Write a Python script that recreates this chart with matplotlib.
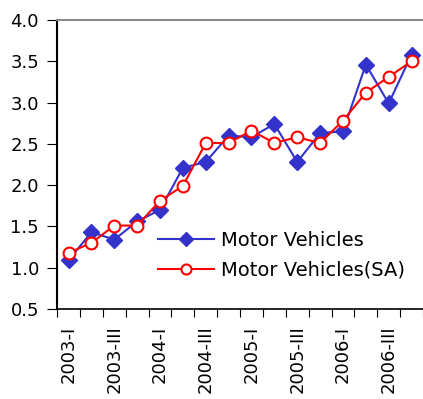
import matplotlib
matplotlib.use("Agg")
import matplotlib.pyplot as plt
import numpy as np

quarters = ['2003-I', '2003-II', '2003-III', '2003-IV',
            '2004-I', '2004-II', '2004-III', '2004-IV',
            '2005-I', '2005-II', '2005-III', '2005-IV',
            '2006-I', '2006-II', '2006-III', '2006-IV']
motor = [1.09, 1.43, 1.34, 1.56, 1.70, 2.21, 2.28, 2.60,
         2.58, 2.74, 2.28, 2.63, 2.65, 3.46, 2.99, 3.58]
motor_sa = [1.18, 1.30, 1.51, 1.51, 1.81, 1.99, 2.51, 2.51,
            2.66, 2.51, 2.58, 2.51, 2.78, 3.12, 3.31, 3.50]

def plot_chart():
    fig = plt.figure(figsize=(4.23, 3.99), dpi=100)
    ax = fig.add_axes([0.135, 0.2256, 0.865, 0.7244])
    x = np.arange(len(quarters))
    ax.plot(x, motor, color='#3333CC', marker='D', markersize=8.5, lw=1.5,
            label='Motor Vehicles')
    ax.plot(x, motor_sa, color='#FF0000', marker='o', markersize=8.5, lw=1.5,
            markerfacecolor='white', markeredgewidth=1.5, label='Motor Vehicles(SA)')

    ax.set_xlim(-0.5, len(quarters) - 0.5)
    ax.set_ylim(0.5, 4.0)
    ax.set_yticks(np.arange(0.5, 4.01, 0.5))
    ax.set_yticklabels(['%.1f' % v for v in np.arange(0.5, 4.01, 0.5)], fontsize=13)
    ax.set_xticks(np.arange(-0.5, len(quarters), 1.0))
    ax.set_xticklabels([])
    ax.set_xticks(x[::2], minor=True)
    ax.set_xticklabels(quarters[::2], minor=True, rotation=90, fontsize=13)
    ax.tick_params(axis='x', which='major', length=6, direction='out', color='black')
    ax.tick_params(axis='x', which='minor', length=0, pad=12)
    ax.tick_params(axis='y', length=7, direction='out', pad=6)

    ax.spines['left'].set_linewidth(1.5)
    ax.spines['bottom'].set_linewidth(1.2)
    ax.spines['top'].set_color('#888888')
    ax.spines['top'].set_linewidth(1.5)
    ax.spines['right'].set_visible(False)

    ax.legend(loc='center left', bbox_to_anchor=(0.276, 0.186), frameon=False,
              fontsize=14, handlelength=2.85, labelspacing=0.55, markerscale=0.85,
              borderpad=0, borderaxespad=0, handletextpad=0.4)
    fig.savefig('out.png', dpi=100)

if __name__ == '__main__':
    plot_chart()
